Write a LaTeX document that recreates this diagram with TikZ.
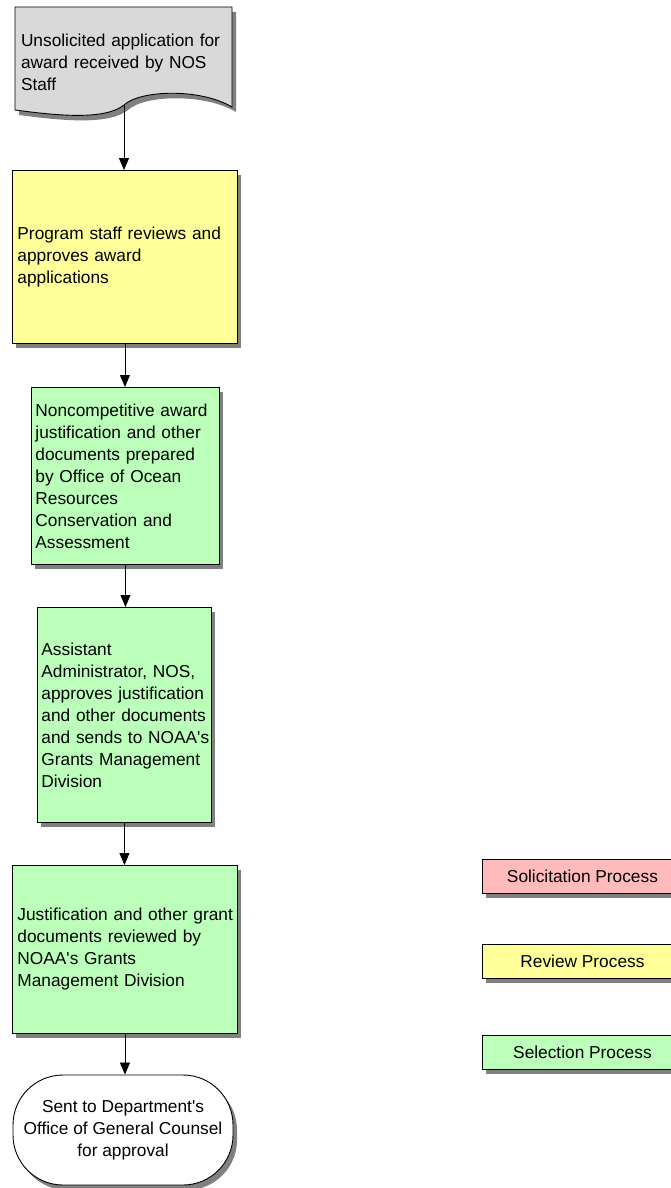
\documentclass[tikz,border=0pt]{standalone}
\usepackage{fontspec}
\setmainfont{Liberation Sans}
\usetikzlibrary{arrows.meta,shadows}

\definecolor{docgray}{RGB}{217,217,217}
\definecolor{revyellow}{RGB}{255,255,153}
\definecolor{selgreen}{RGB}{187,255,187}
\definecolor{solpink}{RGB}{255,187,187}
\definecolor{shadowgray}{RGB}{128,128,128}

\tikzset{
	flow/.style={-{Triangle[width=10pt,length=12pt]},line width=0.8pt,black},
	boxshadow/.style={drop shadow={shadow xshift=4pt,shadow yshift=-5pt,fill=shadowgray,opacity=1}},
	doctext/.style={align=left,text width=205pt,inner sep=0pt,font=\fontsize{17.3}{22}\selectfont},
	procbox/.style={rectangle,draw=black,line width=0.9pt,anchor=north west,align=left,inner xsep=3pt,inner ysep=0pt,font=\fontsize{17.3}{22}\selectfont,boxshadow},
	endbox/.style={rectangle,rounded corners=50pt,draw=black,fill=white,line width=0.9pt,align=center,minimum width=220pt,minimum height=110pt,font=\fontsize{17.3}{22}\selectfont,boxshadow},
	keybox/.style={rectangle,draw=black,line width=0.9pt,anchor=north west,minimum width=200pt,minimum height=34pt,font=\fontsize{17.3}{22}\selectfont,boxshadow}
}

\begin{document}
\begin{tikzpicture}[x=1pt,y=-1pt]
%	\draw[help lines, color=black!30, step=50pt](0,0)grid(671,1188);
	\useasboundingbox (0,0) rectangle (671,1188);
	
	% document shape
	\fill [shadowgray,shift={(4,5)}](15,7)--(232,7)--(232,107) .. controls (200,88) and (140,90) .. (124,105) .. controls (105,120) and (60,116) .. (15,110)--cycle;
	\draw [fill=docgray,draw=black,line width=0.9pt](15,7)--(232,7)--(232,107) .. controls (200,88) and (140,90) .. (124,105) .. controls (105,120) and (60,116) .. (15,110)--cycle;
	\node (appl) at (123.5,62)[doctext]{Unsolicited application for\\award received by NOS\\Staff};
	\coordinate (applbot) at (124,105);
	
	% process boxes
	\node (prog) at (12,170)[procbox,fill=revyellow,text width=219pt,minimum height=173pt]{\hspace*{2pt}Program staff reviews and\\\hspace*{2pt}approves award\\\hspace*{2pt}applications};
	\node (nonc) at (31,387)[procbox,fill=selgreen,text width=182pt,minimum height=177pt]{\hspace*{1pt}Noncompetitive award\\\hspace*{1pt}justification and other\\\hspace*{1pt}documents prepared\\\hspace*{1pt}by Office of Ocean\\\hspace*{1pt}Resources\\\hspace*{1pt}Conservation and\\\hspace*{1pt}Assessment};
	\node (asst) at (37,607)[procbox,fill=selgreen,text width=168pt,minimum height=215pt]{\hspace*{1pt}Assistant\\\hspace*{1pt}Administrator, NOS,\\\hspace*{1pt}approves justification\\\hspace*{1pt}and other documents\\\hspace*{1pt}and~sends~to~NOAA\textquotesingle s\\\hspace*{1pt}Grants Management\\\hspace*{1pt}Division};
	\node (just) at (12,865)[procbox,fill=selgreen,text width=219pt,minimum height=168pt]{\hspace*{2pt}Justification and other grant\\\hspace*{2pt}documents reviewed by\\\hspace*{2pt}NOAA\textquotesingle s Grants\\\hspace*{2pt}Management Division};
	\node (sent) at (123,1130)[endbox]{Sent to Department\textquotesingle s\\Office of General Counsel\\for approval};
	
	% arrows
	\draw [flow](applbot)--(applbot |- prog.north);
	\draw [flow](prog.south)--(prog.south |- nonc.north);
	\draw [flow](nonc.south)--(nonc.south |- asst.north);
	\draw [flow](asst.south)--(asst.south |- just.north);
	\draw [flow](just.south)--(just.south |- sent.north);
	
	% legend
	\begin{scope}
		\node (solic) at (482,859)[keybox,fill=solpink]{Solicitation Process};
		\node (review) at (482,944)[keybox,fill=revyellow]{Review Process};
		\node (select) at (482,1035)[keybox,fill=selgreen]{Selection Process};
	\end{scope}
	
\end{tikzpicture}
\end{document}
